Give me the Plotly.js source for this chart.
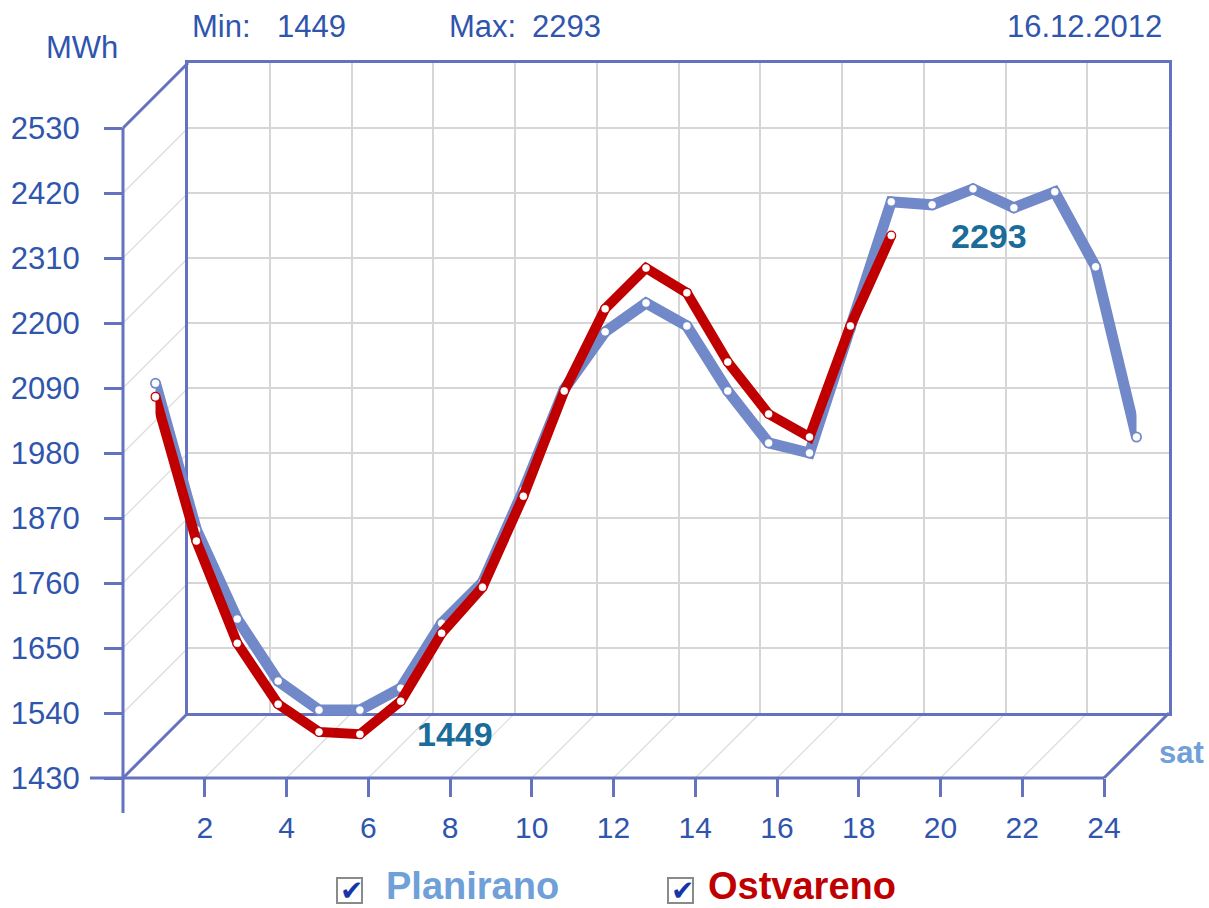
<!DOCTYPE html>
<html>
<head>
<meta charset="utf-8">
<script src="https://cdn.plot.ly/plotly-3.0.1.min.js"></script>
<style>
html,body{margin:0;padding:0;background:#fff;}
#chart{width:1209px;height:908px;}
</style>
</head>
<body>
<div id="chart"></div>
<script>
// ---- data ----
const hours = [0,1,2,3,4,5,6,7,8,9,10,11,12,13,14,15,16,17,18,19,20,21,22,23,24];
const planirano = [2043,1795,1644,1539,1490,1490,1527,1637,1706,1862,2033,2130,2179,2140,2030,1942,1925,2136,2350,2345,2372,2340,2367,2240,1952];
const ostvarenoHours = [0,1,2,3,4,5,6,7,8,9,10,11,12,13,14,15,16,17,18];
const ostvareno = [2020,1776,1603,1500,1453,1449,1505,1620,1698,1852,2030,2169,2238,2196,2079,1991,1952,2140,2293];
const yTicks = [1430,1540,1650,1760,1870,1980,2090,2200,2310,2420,2530];
const xTicks = [2,4,6,8,10,12,14,16,18,20,22,24];
const dateLabel = "16.12.2012";
const unitLabel = "MWh";
const xUnitLabel = "sat";
const seriesNames = ["Planirano","Ostvareno"];

// ---- geometry ----
const W = 1209, H = 908;
const FX0 = 123, FX1 = 1104, FYB = 778, FYT = 128; // front frame (px)
const D = 65; // depth offset
const px = x => x / W;
const py = y => 1 - y / H;
const yMin = yTicks[0], yMax = yTicks[yTicks.length-1];
const xMin = 0, xMax = 24;

const AX = '#6473bf', GRID = '#d6d6d6', TXT = '#2f55ad';
const BLUE = '#7189c8', RED = '#c00000';
const FONT = 'Liberation Sans, Arial, sans-serif';

const minVal = Math.min(...ostvareno), maxVal = Math.max(...ostvareno);
const minHour = ostvarenoHours[ostvareno.indexOf(minVal)];
const maxHour = ostvarenoHours[ostvareno.indexOf(maxVal)];

const seriesTraces = (xs, ys, name, color, width) => [
  {x: xs, y: ys, xaxis:'x3', yaxis:'y3', mode:'lines+markers', name: name, cliponaxis:false,
   line:{color:color, width:width}, marker:{color:color, size:width, line:{width:0}}, hoverinfo:'x+y'},
  {x: xs, y: ys, xaxis:'x3', yaxis:'y3', mode:'markers', name: name, cliponaxis:false, showlegend:false,
   marker:{color:'#ffffff', size:7, line:{color:'rgba(255,255,255,0.6)', width:1}}, hoverinfo:'skip'}
];

const traces = [
  {x: [], y: [], xaxis:'x', yaxis:'y', mode:'lines', hoverinfo:'skip', showlegend:false},
  {x: [], y: [], xaxis:'x2', yaxis:'y2', mode:'lines', hoverinfo:'skip', showlegend:false},
  ...seriesTraces(hours, planirano, seriesNames[0], BLUE, 11),
  ...seriesTraces(ostvarenoHours, ostvareno, seriesNames[1], RED, 10)
];

const fx = h => FX0 + (h - xMin) / (xMax - xMin) * (FX1 - FX0);
const fy = v => FYB - (v - yMin) / (yMax - yMin) * (FYB - FYT);

const shapes = [];
const seg = (x0,y0,x1,y1,color,width,layer) => shapes.push({type:'line', xref:'paper', yref:'paper',
  x0:px(x0), y0:py(y0), x1:px(x1), y1:py(y1), line:{color:color, width:width}, layer:layer||'above'});

yTicks.forEach((v,i) => {
  const y = fy(v);
  if (i === 0 || i === yTicks.length-1) return;
  seg(FX0, y, FX0 + D, y - D, '#dcdcdc', 1.2, 'below');
});
xTicks.forEach(h => {
  if (h === xMax) return;
  const x = fx(h);
  seg(x, FYB, x + D, FYB - D, '#dcdcdc', 1.2, 'below');
});
seg(FX0, FYT, FX0 + D, FYT - D, AX, 3);
seg(FX0, FYB, FX0 + D, FYB - D, AX, 3);
seg(FX1, FYB, FX1 + D, FYB - D, AX, 3);
seg(FX0, FYT, FX0, FYB + 35, AX, 3);
seg(FX0 - 33, FYB, FX1, FYB, AX, 3);

const boxes = [337, 668];
boxes.forEach(bx => {
  shapes.push({type:'rect', xref:'paper', yref:'paper', x0:px(bx), x1:px(bx+25), y0:py(903), y1:py(878),
    line:{color:'#8a8a8a', width:2}, fillcolor:'#ffffff', layer:'above'});
});

const annotations = [
  {text: unitLabel, x: px(82), y: py(47), xanchor:'center', yanchor:'middle'},
  {text: 'Min:', x: px(190), y: py(27), xanchor:'left', yanchor:'middle'},
  {text: String(minVal), x: px(275), y: py(27), xanchor:'left', yanchor:'middle'},
  {text: 'Max:', x: px(447), y: py(27), xanchor:'left', yanchor:'middle'},
  {text: String(maxVal), x: px(530), y: py(27), xanchor:'left', yanchor:'middle'},
  {text: dateLabel, x: px(1164), y: py(27), xanchor:'right', yanchor:'middle'},
].map(a => Object.assign({xref:'paper', yref:'paper', showarrow:false, font:{family:FONT, size:31, color:TXT}}, a));

annotations.push(
  {text: '<b>'+minVal+'</b>', xref:'x3', yref:'y3', x: minHour + 2.33, y: minVal, showarrow:false,
   font:{family:FONT, size:34, color:'#1a6c9a'}, xanchor:'center', yanchor:'middle'},
  {text: '<b>'+maxVal+'</b>', xref:'x3', yref:'y3', x: maxHour + 2.4, y: maxVal, showarrow:false,
   font:{family:FONT, size:34, color:'#1a6c9a'}, xanchor:'center', yanchor:'middle'},
  {text: '<b>'+xUnitLabel+'</b>', xref:'paper', yref:'paper', x: px(1181), y: py(752), showarrow:false,
   font:{family:FONT, size:31, color:'#6fa0d8'}, xanchor:'center', yanchor:'middle'},
  {text: '<b>'+seriesNames[0]+'</b>', xref:'paper', yref:'paper', x: px(384), y: py(886), showarrow:false,
   font:{family:FONT, size:38, color:'#6fa0d8'}, xanchor:'left', yanchor:'middle'},
  {text: '<b>'+seriesNames[1]+'</b>', xref:'paper', yref:'paper', x: px(706), y: py(886), showarrow:false,
   font:{family:FONT, size:38, color:RED}, xanchor:'left', yanchor:'middle'}
);
boxes.forEach(bx => annotations.push({text:'✔', xref:'paper', yref:'paper', x: px(bx+14), y: py(890), showarrow:false,
  font:{family:'DejaVu Sans', size:28, color:'#1535a8'}, xanchor:'center', yanchor:'middle'}));

const layout = {
  width: W, height: H, margin:{l:0,r:0,t:0,b:0}, paper_bgcolor:'#fff', plot_bgcolor:'rgba(0,0,0,0)',
  showlegend:false, font:{family:FONT, color:TXT},
  xaxis:{domain:[px(FX0), px(FX1)], range:[xMin,xMax], anchor:'y', tickvals:xTicks, ticktext:xTicks.map(String),
    ticks:'outside', ticklen:18, tickwidth:3, tickcolor:AX, showgrid:false, zeroline:false, showline:false,
    tickfont:{family:FONT, size:30, color:TXT}, ticklabelstandoff:5, fixedrange:true},
  yaxis:{domain:[py(FYB), py(FYT)], range:[yMin,yMax], anchor:'x', tickvals:yTicks, ticktext:yTicks.map(String),
    ticks:'outside', ticklen:18, tickwidth:3, tickcolor:AX, showgrid:false, zeroline:false, showline:false,
    tickfont:{family:FONT, size:31, color:TXT}, ticklabelstandoff:18, fixedrange:true},
  xaxis2:{domain:[px(FX0+D), px(FX1+D)], range:[xMin,xMax], anchor:'y2', tickvals:xTicks, showticklabels:false,
    ticks:'', showgrid:true, gridcolor:GRID, gridwidth:2, zeroline:false, showline:true, mirror:true, linecolor:AX, linewidth:3, fixedrange:true},
  yaxis2:{domain:[py(FYB-D), py(FYT-D)], range:[yMin,yMax], anchor:'x2', tickvals:yTicks, showticklabels:false,
    ticks:'', showgrid:true, gridcolor:GRID, gridwidth:2, zeroline:false, showline:true, mirror:true, linecolor:AX, linewidth:3, fixedrange:true},
  xaxis3:{domain:[px(FX0+D/2), px(FX1+D/2)], range:[xMin,xMax], anchor:'y3', visible:false, fixedrange:true},
  yaxis3:{domain:[py(FYB-D/2), py(FYT-D/2)], range:[yMin,yMax], anchor:'x3', visible:false, fixedrange:true},
  shapes: shapes, annotations: annotations
};

Plotly.newPlot('chart', traces, layout, {displayModeBar:false, staticPlot:true});
</script>
</body>
</html>
